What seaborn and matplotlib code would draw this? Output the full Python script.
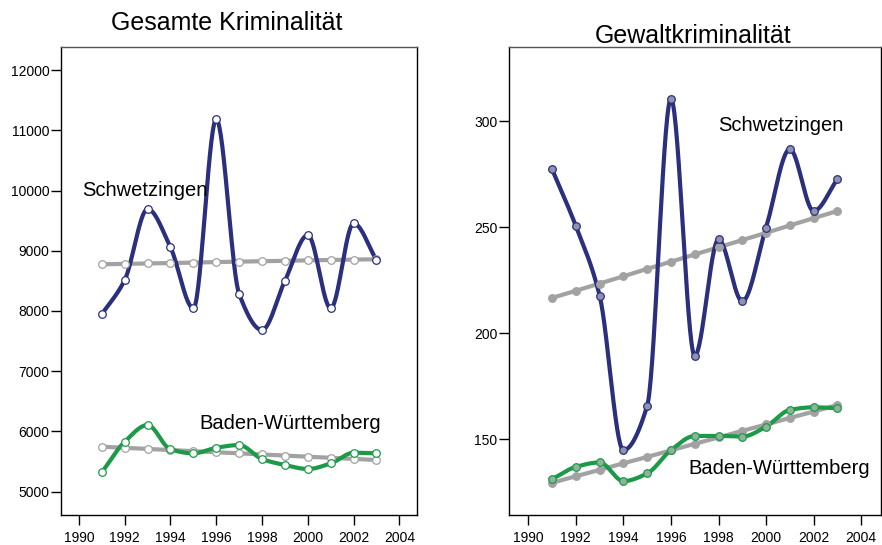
import numpy as np
import pandas as pd
import matplotlib
matplotlib.use("Agg")
import matplotlib.pyplot as plt
import seaborn as sns

years = list(range(1991, 2004))

# Gesamte Kriminalitaet (Straftaten je 100.000 Einwohner)
ges_schw = [7945, 8514, 9693, 9057, 8044, 11182, 8282, 7684, 8502, 9261, 8044, 9455, 8846]
ges_schw_trend = [8775, 8782, 8789, 8796, 8803, 8812, 8819, 8826, 8833, 8840, 8847, 8853, 8858]
ges_bw = [5322, 5830, 6107, 5703, 5637, 5730, 5775, 5542, 5443, 5377, 5470, 5647, 5637]
ges_bw_trend = [5747, 5729, 5710, 5692, 5673, 5655, 5637, 5618, 5600, 5581, 5563, 5545, 5526]

# Gewaltkriminalitaet
gew_schw = [277.4, 250.6, 217.8, 144.9, 165.8, 310.6, 189.4, 244.3, 215.1, 249.9, 286.9, 257.7, 272.7]
gew_schw_trend = [216.7, 220.1, 223.5, 226.9, 230.4, 233.8, 237.2, 240.6, 244.0, 247.4, 250.9, 254.3, 257.7]
gew_bw = [131.2, 137.0, 139.1, 130.3, 133.9, 144.9, 151.6, 151.6, 151.3, 156.0, 163.9, 165.1, 164.7]
gew_bw_trend = [129.5, 132.6, 135.6, 138.7, 141.7, 144.8, 147.9, 150.9, 154.0, 157.0, 160.1, 163.1, 166.2]

xticks = list(range(1990, 2005, 2))
ges_yticks = list(range(5000, 12001, 1000))
gew_yticks = [150, 200, 250, 300]

NAVY = "#2a2f7e"
GREEN = "#1c9a48"
GRAY = "#a2a2a2"


def smooth_curve(x, y, n=400):
    # monotone cubic (pchip) through the points, no overshoot between them
    x = np.asarray(x, float)
    y = np.asarray(y, float)
    h = np.diff(x)
    delta = np.diff(y) / h
    k = len(x)
    d = np.zeros(k)
    for i in range(1, k - 1):
        if delta[i - 1] * delta[i] > 0:
            w1 = 2 * h[i] + h[i - 1]
            w2 = h[i] + 2 * h[i - 1]
            d[i] = (w1 + w2) / (w1 / delta[i - 1] + w2 / delta[i])
    d[0] = delta[0]
    d[-1] = delta[-1]
    xs = np.linspace(x[0], x[-1], n)
    idx = np.clip(np.searchsorted(x, xs) - 1, 0, k - 2)
    t = (xs - x[idx]) / h[idx]
    h00 = 2 * t ** 3 - 3 * t ** 2 + 1
    h10 = t ** 3 - 2 * t ** 2 + t
    h01 = -2 * t ** 3 + 3 * t ** 2
    h11 = t ** 3 - t ** 2
    ys = (h00 * y[idx] + h10 * h[idx] * d[idx] + h01 * y[idx + 1]
          + h11 * h[idx] * d[idx + 1])
    return pd.DataFrame({"x": xs, "y": ys})


def draw_series(ax, vals, color, face, smooth=True):
    df = pd.DataFrame({"x": years, "y": vals})
    curve = smooth_curve(years, vals) if smooth else df
    sns.lineplot(data=curve, x="x", y="y", ax=ax, color=color, lw=3,
                 sort=False, estimator=None, zorder=3)
    ax.scatter(df["x"], df["y"], s=30, facecolor=face, edgecolor=color,
               linewidth=0.9, zorder=4)


sns.set_style("white")
plt.rcParams["font.family"] = ["Liberation Sans", "DejaVu Sans"]
plt.rcParams["text.color"] = "black"
plt.rcParams["xtick.color"] = "black"
plt.rcParams["ytick.color"] = "black"

fig = plt.figure(figsize=(8.82, 5.45), dpi=100)
ax1 = fig.add_axes([0.0695, 0.055, 0.4033, 0.8593])
ax2 = fig.add_axes([0.5774, 0.055, 0.4211, 0.8593])

# left panel
draw_series(ax1, ges_schw_trend, GRAY, "white", smooth=False)
draw_series(ax1, ges_bw_trend, GRAY, "white", smooth=False)
draw_series(ax1, ges_schw, NAVY, "white")
draw_series(ax1, ges_bw, GREEN, "white")
ax1.set_xlim(1989.23, 2004.77)
ax1.set_ylim(4613, 12387)
ax1.set_yticks(ges_yticks)
ax1.set_title("Gesamte Kriminalität", fontsize=18, pad=12, x=0.465)
ax1.text(1990.13, 10008, "Schwetzingen", fontsize=14.5, va="center", ha="left")
ax1.text(1995.25, 6124, "Baden-Württemberg", fontsize=14.5, va="center", ha="left")

# right panel
draw_series(ax2, gew_schw_trend, GRAY, GRAY, smooth=False)
draw_series(ax2, gew_bw_trend, GRAY, GRAY, smooth=False)
draw_series(ax2, gew_schw, NAVY, "#8f93b0")
draw_series(ax2, gew_bw, GREEN, "#8fb39a")
ax2.set_xlim(1989.2, 2004.82)
ax2.set_ylim(114.3, 335.2)
ax2.set_yticks(gew_yticks)
ax2.set_title("Gewaltkriminalität", fontsize=18, pad=3, x=0.495)
ax2.text(1997.97, 297.8, "Schwetzingen", fontsize=14.5, va="center", ha="left")
ax2.text(1996.75, 136.4, "Baden-Württemberg", fontsize=14.5, va="center", ha="left")

for ax in (ax1, ax2):
    ax.set_xticks(xticks)
    ax.set_xlabel("")
    ax.set_ylabel("")
    ax.tick_params(axis="both", direction="out", length=7.5, width=1,
                   labelsize=10, color="black", labelcolor="black",
                   left=True, bottom=True)
    ax.tick_params(axis="y", pad=1)
    ax.tick_params(axis="x", pad=4)
    for s in ax.spines.values():
        s.set_visible(True)
        s.set_color("black")
        s.set_linewidth(1)
    ax.spines["top"].set_color("#555555")

fig.savefig("out.png", dpi=100)
